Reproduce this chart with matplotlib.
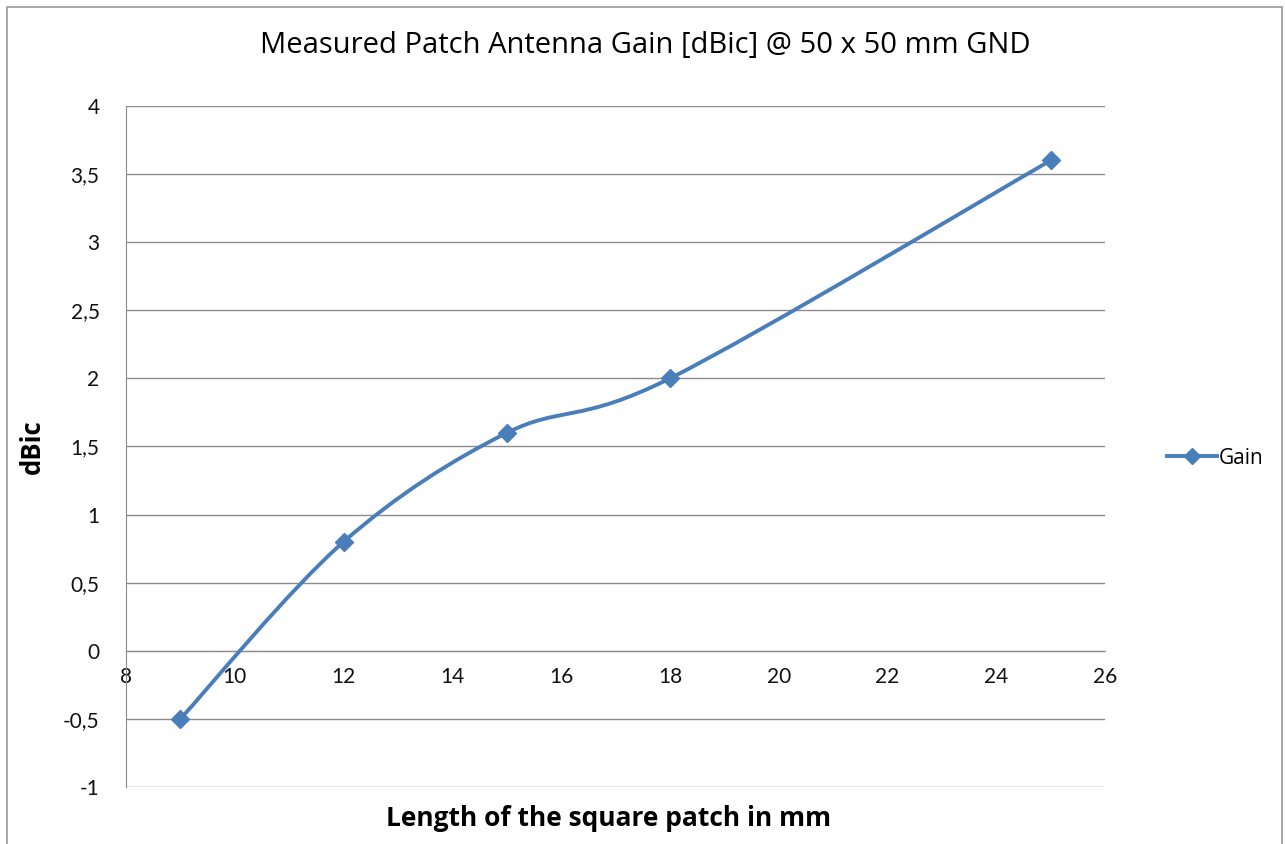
import numpy as np
import matplotlib.pyplot as plt
from matplotlib.path import Path
from matplotlib.patches import PathPatch, Rectangle
from matplotlib.lines import Line2D

# data
patch_length = [9, 12, 15, 18, 25]
gain_dbic = [-0.5, 0.8, 1.6, 2.0, 3.6]

x_ticks = [8, 10, 12, 14, 16, 18, 20, 22, 24, 26]
y_ticks = [-1, -0.5, 0, 0.5, 1, 1.5, 2, 2.5, 3, 3.5, 4]

line_color = '#4A7EBB'
grid_color = '#8C8C8C'


def smooth_path(xs, ys, sx, sy):
    """Excel-like smoothed line: Catmull-Rom as cubic Bezier, done in scaled units."""
    px = np.asarray(xs, float) * sx
    py = np.asarray(ys, float) * sy
    pts = np.column_stack([px, py])
    n = len(pts)
    verts = [pts[0]]
    codes = [Path.MOVETO]
    for i in range(n - 1):
        p0 = pts[i - 1] if i > 0 else pts[i]
        p1 = pts[i]
        p2 = pts[i + 1]
        p3 = pts[i + 2] if i + 2 < n else pts[i + 1]
        c1 = p1 + (p2 - p0) / 6.0
        c2 = p2 - (p3 - p1) / 6.0
        verts += [c1, c2, p2]
        codes += [Path.CURVE4] * 3
    verts = np.array(verts)
    verts[:, 0] /= sx
    verts[:, 1] /= sy
    return Path(verts, codes)


fig = plt.figure(figsize=(12.85, 8.44), dpi=100)
ax = fig.add_axes([126 / 1285, 1 - 787 / 844, (1105 - 126) / 1285, (787 - 106) / 844])

ax.set_xlim(8, 26)
ax.set_ylim(-1, 4)
ax.set_xticks(x_ticks)
ax.set_yticks(y_ticks)
ax.set_yticklabels([('%g' % v).replace('.', ',') for v in y_ticks])

ax.grid(axis='y', color=grid_color, linewidth=1.0)
ax.grid(axis='x', visible=False)
ax.set_axisbelow(True)

for s in ['top', 'right']:
    ax.spines[s].set_visible(False)
ax.spines['left'].set_color(grid_color)
ax.spines['bottom'].set_color(grid_color)
ax.spines['bottom'].set_position(('data', 0))

ax.tick_params(axis='both', length=0, labelsize=15, labelcolor='#111111')
ax.tick_params(axis='y', pad=19)
ax.tick_params(axis='x', pad=12)
for lab in ax.get_xticklabels() + ax.get_yticklabels():
    lab.set_fontfamily('Lato')

# smoothed curve (pixel-ish scaling so the curve bends like Excel's)
curve = smooth_path(patch_length, gain_dbic, 979 / 18, 681 / 5)
ax.add_patch(PathPatch(curve, facecolor='none', edgecolor=line_color, linewidth=2.8, zorder=3))
ax.plot(patch_length, gain_dbic, linestyle='none', marker='D', markersize=9,
        color=line_color, zorder=4)

ax.set_xlabel('Length of the square patch in mm', fontsize=19, fontweight='bold',
              fontfamily='Open Sans', labelpad=0)
ax.xaxis.set_label_coords(0.493, -0.026)
ax.set_ylabel('dBic', fontsize=18.5, fontweight='bold', fontfamily='Open Sans')
ax.yaxis.set_label_coords(-0.082, 0.5)

fig.text(645 / 1285, 1 - 46 / 844, 'Measured Patch Antenna Gain [dBic] @ 50 x 50 mm GND',
         ha='center', va='center', fontsize=21, fontfamily='Open Sans', color='#000000')

handle = Line2D([], [], color=line_color, linewidth=2.8, marker='D', markersize=8)
fig.legend([handle], ['Gain'], loc='center left', bbox_to_anchor=(1157 / 1285, 1 - 458 / 844),
           frameon=False, prop={'family': 'Open Sans', 'size': 15},
           handlelength=2.4, handletextpad=0.05, borderpad=0)

# outer chart frame
fig.patches.append(Rectangle((7 / 1285, -0.01), 1 - 10 / 1285, 1 - 7 / 844 + 0.01,
                             transform=fig.transFigure, fill=False,
                             edgecolor='#9A9A9A', linewidth=1.2))

fig.savefig('out.png', dpi=100)
